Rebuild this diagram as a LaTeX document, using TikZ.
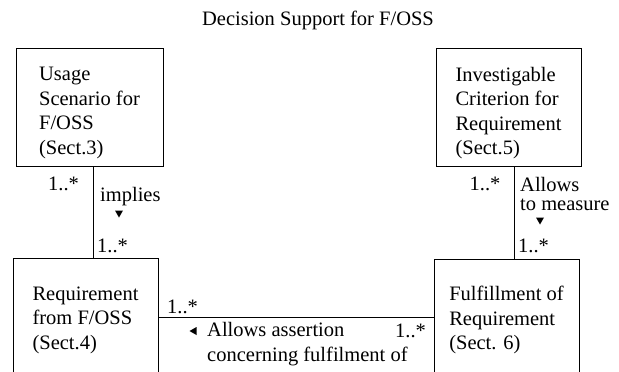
\documentclass[tikz,border=0pt]{standalone}
\usepackage{fontspec}
\setmainfont{Liberation Serif}
\begin{document}
\begin{tikzpicture}[x=1pt,y=-1pt,
  every node/.style={font=\fontsize{20.5}{24.5}\selectfont},
  box/.style={draw, line width=1pt, inner sep=0pt},
  boxtext/.style={align=left, inner sep=0pt},
  lbl/.style={inner sep=0pt, anchor=west, text height=14pt, text depth=4pt},
  conn/.style={line width=1pt},
  tri/.style={fill=black}]
\useasboundingbox (0,0) rectangle (619,372);
\clip (0,0) rectangle (619,372);
% title
\node[lbl, anchor=center] (title) at (318,20) {Decision Support for F/OSS};
% boxes
\node[box, minimum width=147pt, minimum height=118pt] (usage) at (89.5,107) {};
\node[boxtext] (usagetxt) at (89.5,113) {Usage\\Scenario for\\F/OSS\\(Sect.3)};
\node[box, minimum width=145pt, minimum height=118pt] (crit) at (508.5,107) {};
\node[boxtext] (crittxt) at (508.5,113) {Investigable\\Criterion for\\Requirement\\(Sect.5)};
\node[box, minimum width=145pt, minimum height=122pt] (req) at (85.5,319) {};
\node[boxtext] (reqtxt) at (85.5,320) {Requirement\\from F/OSS\\(Sect.4)};
\node[box, minimum width=145pt, minimum height=122pt] (ful) at (506.5,320) {};
\node[boxtext] (fultxt) at (506.5,320) {Fulfillment of\\Requirement\\(Sect. 6)};
% connectors
\coordinate (v1) at (93,0);
\coordinate (v2) at (514,0);
\coordinate (h) at (0,317);
\draw[conn] (usage.south -| v1) -- (req.north -| v1);
\draw[conn] (crit.south -| v2) -- (ful.north -| v2);
\draw[conn] (req.east |- h) -- (ful.west |- h);
% labels left vertical
\node[lbl, anchor=center] (m1) at (63.5,185) {1..*};
\node[lbl] (implies) at (100,196) {implies};
\fill[tri] (115,210.5) -- (123,210.5) -- (119,217.5) -- cycle;
\node[lbl] (m2) at (97,247) {1..*};
% labels right vertical
\node[lbl, anchor=center] (m3) at (485,185) {1..*};
\node[lbl] (allows) at (520,186) {Allows};
\node[lbl] (tomeasure) at (520,205) {to measure};
\fill[tri] (536,217.5) -- (544,217.5) -- (540,224.5) -- cycle;
\node[lbl] (m4) at (518,247) {1..*};
% labels horizontal
\node[lbl] (m5) at (167,308) {1..*};
\fill[tri] (189.5,331) -- (196.5,327) -- (196.5,335) -- cycle;
\node[lbl] (assert1) at (207,331) {Allows assertion};
\node[lbl] (assert2) at (207,356) {concerning fulfilment of};
\node[lbl] (m6) at (395,332) {1..*};
\end{tikzpicture}
\end{document}
